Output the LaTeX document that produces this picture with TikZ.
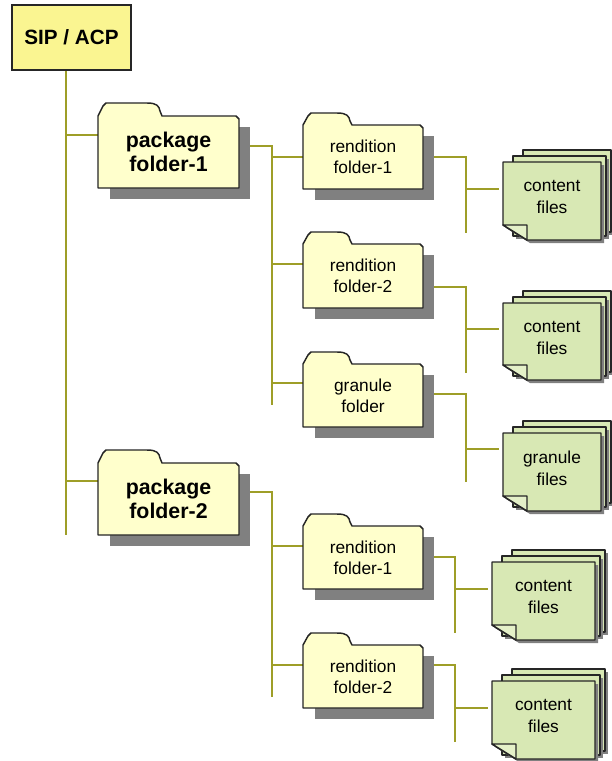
\documentclass[tikz,border=0pt]{standalone}
\usepackage{fontspec}
\setmainfont{Liberation Sans}
\usetikzlibrary{calc}
\pgfdeclarelayer{bg}
\pgfsetlayers{bg,main}
\definecolor{sipc}{RGB}{250,245,145}
\definecolor{foldc}{RGB}{255,255,204}
\definecolor{greenc}{RGB}{216,232,180}
\definecolor{foldl}{RGB}{228,240,200}
\definecolor{shadc}{RGB}{128,128,128}
\definecolor{connc}{RGB}{158,158,40}
\def\u{0.75pt}
\tikzset{
  conn/.style={draw=connc, line width=1pt},
  outl/.style={draw=black!85, line width=1.1pt, line join=round},
  shad/.style={fill=shadc},
  ftext/.style={font=\fontsize{13}{16}\selectfont, align=center},
  ptext/.style={font=\fontsize{16}{18}\selectfont\bfseries, align=center},
  stext/.style={font=\fontsize{13}{16.5}\selectfont, align=center},
}
% folder: name, L, T(body top), W, H, tab width, tab height, style, text
\newcommand\fldr[9]{%
  \begin{scope}[shift={(#2,#3)}]
    \fill[shad] (12,11) rectangle (#4+11,#5+11);
    \draw[outl, fill=foldc] (0,#5) -- (0,0) -- (5,-#7+3) .. controls (6,-#7+1) .. (8,-#7)
      -- (#6,-#7) .. controls (#6+10,-#7) and (#6+12,-#7+3) .. (#6+13,-#7+8)
      -- (#6+15,0) -- (#4-3,0) -- (#4,3) -- (#4,#5) -- cycle;
    \node[#8, inner sep=0pt, minimum width=#4*\u, minimum height=#5*\u] (#1) at (#4/2,#5/2) {#9};
  \end{scope}}
% stack of files: name, L, T, W, H, text
\newcommand\stk[6]{%
  \begin{scope}[shift={(#2,#3)}]
    \foreach \k in {2,1} {
      \fill[shad] (10*\k+3,-6*\k+3) rectangle (#4+5*\k+3,#5-4*\k+3);
      \draw[outl, fill=greenc] (10*\k,-6*\k) rectangle (#4+5*\k,#5-4*\k);
    }
    \fill[shad] (3,3) -- (#4+3,3) -- (#4+3,#5+3) -- (27,#5+3) -- (3,#5-12) -- cycle;
    \draw[outl, fill=greenc] (0,0) -- (#4,0) -- (#4,#5) -- (24,#5) -- (0,#5-15) -- cycle;
    \draw[outl, fill=foldl] (0,#5-15) -- (24,#5-15) -- (24,#5) -- cycle;
    \node[stext, inner sep=0pt, minimum width=#4*\u, minimum height=#5*\u-8*\u] (#1) at (#4/2,#5/2-4) {#6};
  \end{scope}}
\begin{document}
\begin{tikzpicture}[x=0.75pt, y=-0.75pt]
\useasboundingbox (0,0) rectangle (611,761);
\begin{pgfonlayer}{bg}
  \fill[white] (0,0) rectangle (611,761);
\end{pgfonlayer}

\node[draw=black!85, line width=1.1pt, fill=sipc, inner sep=0pt,
      minimum width=119*\u, minimum height=65*\u,
      font=\fontsize{15.5}{18}\selectfont\bfseries] (sip) at (71.5,37.5) {SIP / ACP};

\fldr{pk1}{98}{116}{141}{72}{49}{13}{ptext}{package\\folder-1}
\fldr{pk2}{98}{463}{141}{72}{49}{13}{ptext}{package\\folder-2}
\fldr{r1}{303}{125}{120}{64}{34}{12}{ftext}{rendition\\folder-1}
\fldr{r2}{303}{244}{120}{64}{34}{12}{ftext}{rendition\\folder-2}
\fldr{g1}{303}{364}{120}{63}{34}{12}{ftext}{granule\\folder}
\fldr{r3}{303}{526}{120}{63}{34}{12}{ftext}{rendition\\folder-1}
\fldr{r4}{303}{645}{120}{63}{34}{12}{ftext}{rendition\\folder-2}

\stk{s1}{503}{162}{98}{78}{content\\files}
\stk{s2}{503}{303}{98}{77}{content\\files}
\stk{s3}{503}{433}{98}{78}{granule\\files}
\stk{s4}{492}{562}{103}{78}{content\\files}
\stk{s5}{492}{681}{103}{78}{content\\files}

\begin{pgfonlayer}{bg}
  \coordinate (t0) at (66,535);
  \coordinate (t1) at (272,405);
  \coordinate (t2) at (272,697);
  \coordinate (u1) at (466,233);
  \coordinate (u2) at (466,373);
  \coordinate (u3) at (466,482);
  \coordinate (u4) at (455,633);
  \coordinate (u5) at (455,742);
  % root
  \draw[conn] (sip.south -| t0) -- (t0);
  \draw[conn] (t0 |- 0,135) -- (pk1.west |- 0,135);
  \draw[conn] (t0 |- 0,481) -- (pk2.west |- 0,481);
  % package folder-1
  \draw[conn] (pk1.east |- 0,146) -| (t1);
  \draw[conn] (t1 |- 0,157) -- (r1.west |- 0,157);
  \draw[conn] (t1 |- 0,264) -- (r2.west |- 0,264);
  \draw[conn] (t1 |- 0,383) -- (g1.west |- 0,383);
  % package folder-2
  \draw[conn] (pk2.east |- 0,492) -| (t2);
  \draw[conn] (t2 |- 0,546) -- (r3.west |- 0,546);
  \draw[conn] (t2 |- 0,665) -- (r4.west |- 0,665);
  % folders to files
  \draw[conn] (r1.east |- 0,157) -| (u1);
  \draw[conn] (u1 |- 0,189) -- ([xshift=-4*\u]s1.west |- 0,189);
  \draw[conn] (r2.east |- 0,287) -| (u2);
  \draw[conn] (u2 |- 0,329) -- ([xshift=-4*\u]s2.west |- 0,329);
  \draw[conn] (g1.east |- 0,394) -| (u3);
  \draw[conn] (u3 |- 0,449) -- ([xshift=-4*\u]s3.west |- 0,449);
  \draw[conn] (r3.east |- 0,557) -| (u4);
  \draw[conn] (u4 |- 0,589) -- ([xshift=-4*\u]s4.west |- 0,589);
  \draw[conn] (r4.east |- 0,665) -| (u5);
  \draw[conn] (u5 |- 0,708) -- ([xshift=-4*\u]s5.west |- 0,708);
\end{pgfonlayer}
\end{tikzpicture}
\end{document}
